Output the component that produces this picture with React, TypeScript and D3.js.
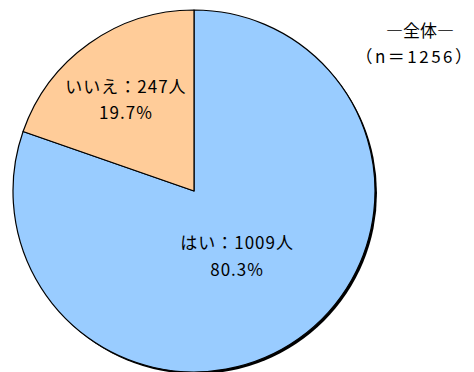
import React from 'react';
import * as d3 from 'd3';

const categories = ['はい', 'いいえ'];
const counts = [1009, 247];
const percents = ['80.3%', '19.7%'];
const colors = ['#99CCFF', '#FFCC99'];
const titleLines = ['―全体―', '（n＝1256）'];

const width = 474;
const height = 372;
const cx = 194;
const cy = 191;
const r = 181;
// label distance from centre, as share of radius (matches source placement)
const labelR = [0.43, 0.63];

const font = '"Noto Sans CJK JP", "Noto Sans", sans-serif';

const App = () => {
	const pie = d3.pie<number>().sort(null).value((d) => d);
	const arcs = pie(counts);
	const arc = d3.arc<d3.PieArcDatum<number>>().innerRadius(0).outerRadius(r);

	return (
		<svg width={width} height={height} style={{ position: 'absolute', left: 0, top: 0, background: '#fff' }}>
			<g transform={`translate(${cx}, ${cy})`}>
				<circle cx={2} cy={2} r={r} fill="#000" />
				{arcs.map((a, i) => (
					<path key={i} d={arc(a) || ''} fill={colors[i]} stroke="#000" strokeWidth={1.2} strokeLinejoin="round" />
				))}
				{arcs.map((a, i) => {
					const lr = labelR[i] * r;
					const [x, y] = d3.arc<d3.PieArcDatum<number>>().innerRadius(lr).outerRadius(lr).centroid(a);
					return (
						<text key={i} x={x - 2} y={y} textAnchor="middle" fontFamily={font} fontSize={17} letterSpacing={1} fill="#000">
							<tspan x={x - 2} dy="-0.3em">{`${categories[i]}：${counts[i]}人`}</tspan>
							<tspan x={x - 2} dy="1.55em">{percents[i]}</tspan>
						</text>
					);
				})}
			</g>
			<text x={420} y={37} textAnchor="middle" fontFamily='"Noto Sans CJK JP", sans-serif' fontSize={17} fill="#000">{titleLines[0]}</text>
			<text x={415} y={63} textAnchor="middle" fontFamily={font} fontSize={17} letterSpacing={2.5} fill="#000">{titleLines[1]}</text>
		</svg>
	);
};

export default App;
